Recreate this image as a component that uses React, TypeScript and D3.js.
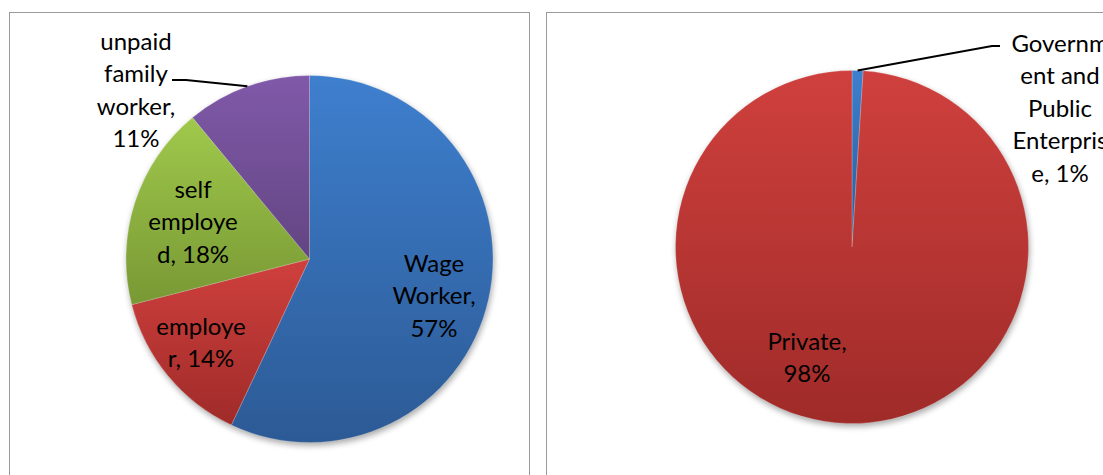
import React from 'react';
import * as d3 from 'd3';

// ---- data ----
const leftCategories = ['Wage Worker', 'employer', 'self employed', 'unpaid family worker'];
const leftValues = [57, 14, 18, 11];
const leftLabels = [
  ['Wage', 'Worker,', '57%'],
  ['employe', 'r, 14%'],
  ['self', 'employe', 'd, 18%'],
  ['unpaid', 'family', 'worker,', '11%'],
];
const rightCategories = ['Government and Public Enterprise', 'Private'];
const rightValues = [1, 98];
const rightLabels = [
  ['Governm', 'ent and', 'Public', 'Enterpris', 'e, 1%'],
  ['Private,', '98%'],
];

// ---- styles / layout ----
const gradBlue = ['#3e7fce', '#2c5a95'];
const gradRed = ['#cf403d', '#9f2b29'];
const gradGreen = ['#a0c94c', '#789834'];
const gradPurple = ['#8059a9', '#634582'];
const leftFills = [gradBlue, gradRed, gradGreen, gradPurple];
const rightFills = [gradBlue, gradRed];

const FONT = 'Lato, "Open Sans", sans-serif';
const FS = 24;
const LH = 32.5;

type LabelPos = { x: number; y: number; leader?: [number, number][] };

const leftLayout = { cx: 309.5, cy: 259, r: 183.5 };
const rightLayout = { cx: 852, cy: 247, r: 176.5 };
// label centres (first-line centre), relative to the svg
const leftLabelPos: LabelPos[] = [
  { x: 434, y: 262 },
  { x: 201, y: 325 },
  { x: 193, y: 188 },
  { x: 136, y: 40, leader: [[172, 80], [186, 80]] },
];
const rightLabelPos: LabelPos[] = [
  { x: 1060, y: 42, leader: [[1000, 46], [992, 46]] },
  { x: 807, y: 340 },
];

function Pie({ id, values, labels, fills, layout, labelPos }: any) {
  const pie = d3.pie<number>().sort(null).value((d) => d);
  const arcs = pie(values);
  const arc = d3.arc<d3.PieArcDatum<number>>().innerRadius(0).outerRadius(layout.r);
  return (
    <g>
      <defs>
        {fills.map((f: string[], i: number) => (
          <linearGradient key={i} id={`${id}-g${i}`} x1="0" y1="0" x2="0" y2="1">
            <stop offset="0" stopColor={f[0]} />
            <stop offset="1" stopColor={f[1]} />
          </linearGradient>
        ))}
      </defs>
      <circle
        cx={layout.cx + 1}
        cy={layout.cy + 3}
        r={layout.r}
        fill="#000"
        opacity={0.35}
        filter="url(#shadowBlur)"
      />
      <g transform={`translate(${layout.cx},${layout.cy})`}>
        {arcs.map((a, i) => (
          <path
            key={i}
            d={arc(a) as string}
            fill={`url(#${id}-g${i})`}
            stroke="rgba(255,255,255,0.35)"
            strokeWidth={0.6}
          />
        ))}
      </g>
      {arcs.map((a, i) => {
        const p = labelPos[i];
        let leader = null;
        if (p.leader) {
          const mid = (a.startAngle + a.endAngle) / 2;
          const ex = layout.cx + Math.sin(mid) * layout.r;
          const ey = layout.cy - Math.cos(mid) * layout.r;
          const pts = [...p.leader, [ex, ey]];
          leader = (
            <polyline
              points={pts.map((q: number[]) => q.join(',')).join(' ')}
              fill="none"
              stroke="#000"
              strokeWidth={2}
            />
          );
        }
        return (
          <g key={i}>
            {leader}
            <text
              x={p.x}
              y={p.y}
              textAnchor="middle"
              fontFamily={FONT}
              fontSize={FS}
              fill="#000"
            >
              {labels[i].map((line: string, j: number) => (
                <tspan key={j} x={p.x} y={p.y + j * LH} dominantBaseline="central">
                  {line}
                </tspan>
              ))}
            </text>
          </g>
        );
      })}
    </g>
  );
}

export default function App() {
  return (
    <svg
      width={1103}
      height={475}
      style={{ position: 'absolute', left: 0, top: 0, background: '#fff' }}
    >
      <defs>
        <filter id="shadowBlur" x="-20%" y="-20%" width="140%" height="140%">
          <feGaussianBlur stdDeviation="3" />
        </filter>
      </defs>
      <rect x={0} y={0} width={1103} height={475} fill="#fff" />
      <rect x={9.5} y={12.5} width={520} height={480} fill="none" stroke="#9a9a9a" strokeWidth={1} />
      <rect x={546.5} y={12.5} width={580} height={480} fill="none" stroke="#9a9a9a" strokeWidth={1} />
      <Pie
        id="left"
        values={leftValues}
        labels={leftLabels}
        fills={leftFills}
        layout={leftLayout}
        labelPos={leftLabelPos}
        cats={leftCategories}
      />
      <Pie
        id="right"
        values={rightValues}
        labels={rightLabels}
        fills={rightFills}
        layout={rightLayout}
        labelPos={rightLabelPos}
        cats={rightCategories}
      />
    </svg>
  );
}
